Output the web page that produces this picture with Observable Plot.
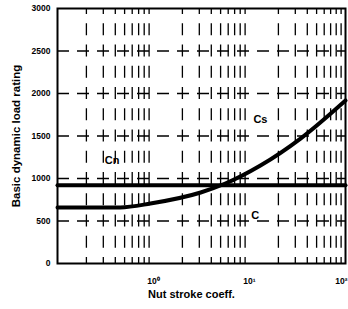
<!DOCTYPE html>
<html><head><meta charset="utf-8">
<script src="https://cdn.jsdelivr.net/npm/d3@7"></script>
<script src="https://cdn.jsdelivr.net/npm/@observablehq/plot@0.6"></script>
<style>body{margin:0;background:#fff;}</style>
</head><body><div id="chart"></div>
<script>
// Cn: constant line
const cnX = [0.1, 100];
const cnY = [920, 920];
// C / Cs curve
const cX = [0.1, 0.45, 0.93, 3.1, 5.6, 13, 34, 100];
const cY = [660, 660, 706, 835, 941, 1153, 1470, 1918];
// Curve labels
const labelText = ["Cn", "Cs", "C"];
const labelX = [0.37, 13, 11.5];
const labelY = [1210, 1700, 565];
// Ticks
const yTicks = [0, 500, 1000, 1500, 2000, 2500, 3000];
const xTicks = [1, 10];
const xTicksEnd = [100];
const xTickLabels = {1: "10\u2070", 10: "10\u00B9", 100: "10\u00B2"};
const gridX = [0.2,0.3,0.4,0.5,0.6,0.7,0.8,0.9,2,3,4,5,6,7,8,9,20,30,40,50,60,70,80,90];
const gridY = [500, 1000, 1500, 2000, 2500];

const cnData = cnX.map((x, i) => ({x, y: cnY[i]}));
const cData = cX.map((x, i) => ({x, y: cY[i]}));
const labels = labelText.map((t, i) => ({t, x: labelX[i], y: labelY[i]}));

const chart = Plot.plot({
  width: 348, height: 309,
  marginLeft: 57, marginRight: 3, marginTop: 8, marginBottom: 46,
  x: {type: "log", domain: [0.1, 100]},
  y: {domain: [0, 3000]},
  style: {fontFamily: "'Liberation Sans', Arial, sans-serif", fontWeight: "bold", fontSize: "8.5px", color: "#000", background: "#fff", overflow: "visible"},
  marks: [
    Plot.ruleX(gridX, {x: d => d, stroke: "#000", strokeWidth: 1.3, strokeDasharray: "12,9.25", strokeDashoffset: 6}),
    Plot.ruleY(gridY, {y: d => d, stroke: "#000", strokeWidth: 1.3, strokeDasharray: "12,8"}),
    Plot.line(cnData, {x: "x", y: "y", stroke: "#000", strokeWidth: 4}),
    Plot.line(cData, {x: "x", y: "y", stroke: "#000", strokeWidth: 4, curve: "monotone-x"}),
    Plot.text(labels, {x: "x", y: "y", text: "t", fontSize: 11, fontWeight: "bold", fill: "#000"}),
    Plot.frame({stroke: "#000", strokeWidth: 2}),
    Plot.axisY({ticks: yTicks, tickSize: 0, tickPadding: 7, tickFormat: d => String(d), fontSize: 8.5, fontWeight: "bold", label: null}),
    Plot.axisY({ticks: [], label: "Basic dynamic load rating", labelAnchor: "center", labelOffset: 46, labelArrow: "none", fontSize: 11.5, fontWeight: "bold"}),
    Plot.axisX({ticks: xTicks, tickSize: 0, tickPadding: 14, tickFormat: d => xTickLabels[d], fontSize: 8.5, fontWeight: "bold", label: null}),
    Plot.axisX({ticks: xTicksEnd, tickSize: 0, tickPadding: 14, tickFormat: d => xTickLabels[d], textAnchor: "end", dx: 2, fontSize: 8.5, fontWeight: "bold", label: null}),
    Plot.text(["Nut stroke coeff."], {frameAnchor: "bottom", text: d => d, dx: -10, dy: 34, fontSize: 11, fontWeight: "bold", fill: "#000"})
  ]
});
document.getElementById("chart").appendChild(chart);
</script>
</body></html>
